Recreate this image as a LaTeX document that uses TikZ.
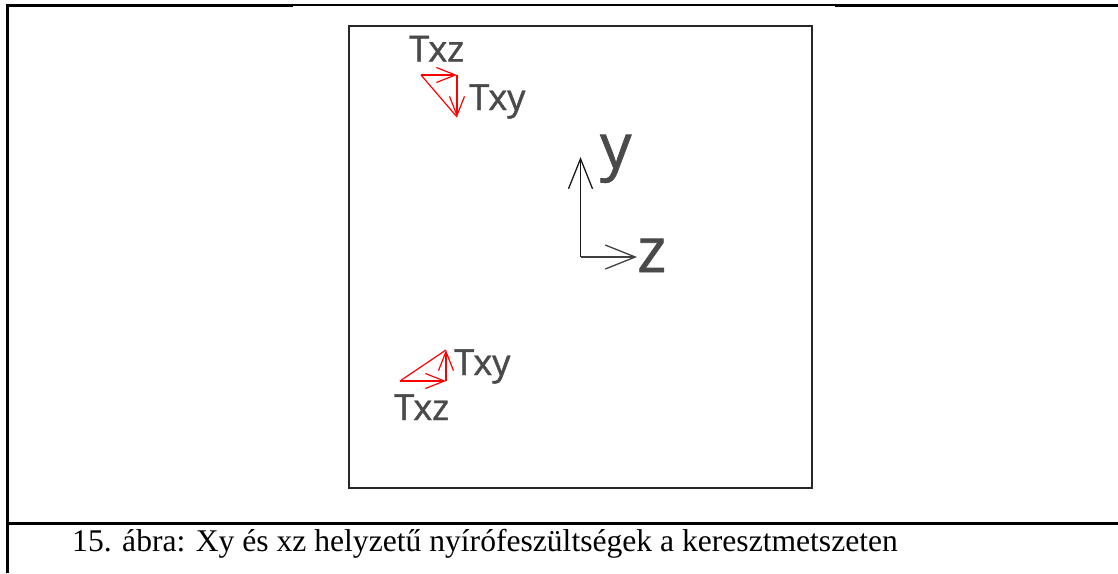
\documentclass[tikz,border=0pt]{standalone}
\usepackage{fontspec}
\setmainfont{Liberation Serif}
\newfontfamily\lblfont[FakeBold=1.2]{Open Sans}
\usetikzlibrary{arrows.meta}
\definecolor{lblgray}{HTML}{4A4A4A}
\tikzset{
  frame/.style={line width=3pt,black},
  thinframe/.style={line width=1.2pt,black},
  square/.style={line width=2.2pt,black!85},
  redarrow/.style={red,line width=1.2pt,-{Straight Barb[length=19pt,width=15pt,line width=1.2pt]}},
  redline/.style={red,line width=1.2pt},
  axisarrow/.style={line width=1.4pt,-{Straight Barb[length=30pt,width=24pt,line width=1.3pt]}},
  tlabel/.style={font=\lblfont\fontsize{36}{40}\selectfont,text=lblgray,inner sep=0pt,anchor=base west},
  axlabel/.style={font=\lblfont\fontsize{62}{70}\selectfont,text=lblgray,inner sep=0pt,anchor=base west},
  caption/.style={font=\fontsize{31.6}{36}\selectfont,inner sep=0pt,anchor=base west}
}
\begin{document}
\begin{tikzpicture}[x=1pt,y=-1pt]
\useasboundingbox (0,0) rectangle (1118,573);
% outer frame
\coordinate (tl) at (7,5);
\coordinate (ta) at (293,5);
\coordinate (tb) at (835,5);
\coordinate (tr) at (1118,5);
\coordinate (bl) at (7,573);
\coordinate (cl) at (7,523);
\coordinate (cr) at (1118,523);
\draw[frame] (tl) -- (ta);
\draw[thinframe] (ta) -- (tb);
\draw[frame] (tb) -- (tr);
\draw[frame] (7,3.5) -- (bl);
\draw[frame] (cl) -- (cr);
% inner square
\draw[square] (349,26) rectangle (812,488);
% axes
\coordinate (O) at (580.5,257);
\coordinate (Y) at (580.5,157);
\coordinate (Z) at (637,257);
\draw[axisarrow,black!90] (O) -- (Y);
\draw[axisarrow,black!75] (O) -- (Z);
\node[axlabel] (ylab) at (600,168) {y};
\node[axlabel] (zlab) at (637,272) {z};
% top red triangle
\coordinate (a1) at (421,75);
\coordinate (a2) at (457,75);
\coordinate (a3) at (457,117);
\draw[redarrow] (a1) -- (a2);
\draw[redarrow] (a2) -- (a3);
\draw[redline] (a1) -- (a3);
\node[tlabel] (txz1) at (409,61.5) {Txz};
\node[tlabel] (txy1) at (469,110) {Txy};
% bottom red triangle
\coordinate (b1) at (400,381);
\coordinate (b2) at (446,381);
\coordinate (b3) at (446,350);
\draw[redarrow] (b1) -- (b2);
\draw[redarrow] (b2) -- (b3);
\draw[redline] (b1) -- (b3);
\node[tlabel] (txy2) at (454,375) {Txy};
\node[tlabel] (txz2) at (394,420) {Txz};
% caption
\node[caption] (cap) at (72,551) {15. ábra: Xy és xz helyzetű nyírófeszültségek a keresztmetszeten};
\end{tikzpicture}
\end{document}
